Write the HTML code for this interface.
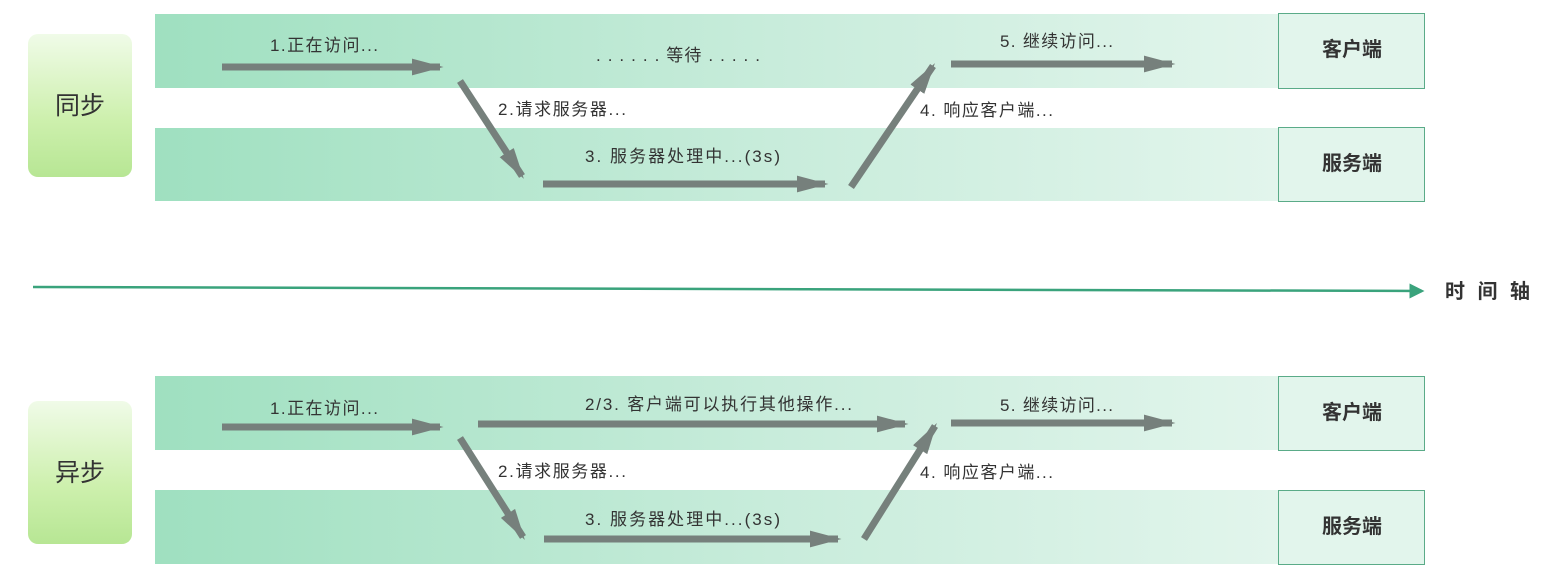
<!DOCTYPE html>
<html><head><meta charset="utf-8"><style>
body{margin:0;background:#fff;}
svg{display:block}
text{font-family:"Liberation Sans","Noto Sans CJK SC",sans-serif;fill:#333;}
</style></head><body>
<svg width="1549" height="573" viewBox="0 0 1549 573" xmlns="http://www.w3.org/2000/svg">
<defs>
<linearGradient id="band" x1="0" x2="1" y1="0" y2="0">
<stop offset="0" stop-color="#9fe0c0"/><stop offset="0.55" stop-color="#c8ecdb"/><stop offset="1" stop-color="#e2f5ec"/>
</linearGradient>
<linearGradient id="lab" x1="0" x2="0" y1="0" y2="1">
<stop offset="0" stop-color="#f0fbe8"/><stop offset="0.6" stop-color="#cdf0ad"/><stop offset="1" stop-color="#b7e694"/>
</linearGradient>
<marker id="ah" markerWidth="4.5" markerHeight="2.4" refX="4" refY="1.2" orient="auto" markerUnits="strokeWidth">
<path d="M0,0 L4.5,1.2 L0,2.4 Z" fill="#76807c"/></marker>
<marker id="ta" markerWidth="6" markerHeight="6" refX="5" refY="3" orient="auto" markerUnits="strokeWidth">
<path d="M0,0 L6,3 L0,6 Z" fill="#3aa37c"/></marker>
</defs>
<!-- sync -->
<rect x="28" y="34" width="104" height="143" rx="10" fill="url(#lab)"/>
<text x="80" y="114" font-size="25" text-anchor="middle">同步</text>
<rect x="155" y="14" width="1123" height="74" fill="url(#band)"/>
<rect x="155" y="128" width="1123" height="73" fill="url(#band)"/>
<rect x="1278.5" y="13.5" width="146" height="75" fill="#e2f5ec" stroke="#5aab88"/>
<rect x="1278.5" y="127.5" width="146" height="74" fill="#e2f5ec" stroke="#5aab88"/>
<text x="1352" y="56" font-size="20" text-anchor="middle" font-weight="bold">客户端</text>
<text x="1352" y="170" font-size="20" text-anchor="middle" font-weight="bold">服务端</text>
<g stroke="#76807c" stroke-width="7" fill="none" marker-end="url(#ah)">
<line x1="222" y1="67" x2="440" y2="67"/>
<line x1="460" y1="81" x2="522" y2="176"/>
<line x1="543" y1="184" x2="825" y2="184"/>
<line x1="851" y1="187" x2="933" y2="66"/>
<line x1="951" y1="64" x2="1172" y2="64"/>
</g>
<g font-size="17">
<text x="270" y="51" textLength="108">1.正在访问...</text>
<text x="596" y="61" textLength="164">. . . . . . 等待 . . . . .</text>
<text x="498" y="115" textLength="128">2.请求服务器...</text>
<text x="585" y="162" textLength="195">3. 服务器处理中...(3s)</text>
<text x="920" y="116" textLength="133">4. 响应客户端...</text>
<text x="1000" y="47" textLength="113">5. 继续访问...</text>
</g>
<!-- axis -->
<line x1="33" y1="287" x2="1422" y2="291" stroke="#3aa37c" stroke-width="2.5" marker-end="url(#ta)"/>
<text x="1445" y="298" font-size="20" font-weight="bold" textLength="85">时间轴</text>
<!-- async -->
<rect x="28" y="401" width="104" height="143" rx="10" fill="url(#lab)"/>
<text x="80" y="481" font-size="25" text-anchor="middle">异步</text>
<rect x="155" y="376" width="1123" height="74" fill="url(#band)"/>
<rect x="155" y="490" width="1123" height="74" fill="url(#band)"/>
<rect x="1278.5" y="376.5" width="146" height="74" fill="#e2f5ec" stroke="#5aab88"/>
<rect x="1278.5" y="490.5" width="146" height="74" fill="#e2f5ec" stroke="#5aab88"/>
<text x="1352" y="419" font-size="20" text-anchor="middle" font-weight="bold">客户端</text>
<text x="1352" y="533" font-size="20" text-anchor="middle" font-weight="bold">服务端</text>
<g stroke="#76807c" stroke-width="7" fill="none" marker-end="url(#ah)">
<line x1="222" y1="427" x2="440" y2="427"/>
<line x1="478" y1="424" x2="905" y2="424"/>
<line x1="460" y1="438" x2="523" y2="537"/>
<line x1="544" y1="539" x2="838" y2="539"/>
<line x1="864" y1="539" x2="935" y2="426"/>
<line x1="951" y1="423" x2="1172" y2="423"/>
</g>
<g font-size="17">
<text x="270" y="414" textLength="108">1.正在访问...</text>
<text x="585" y="410" textLength="267">2/3. 客户端可以执行其他操作...</text>
<text x="498" y="477" textLength="128">2.请求服务器...</text>
<text x="585" y="525" textLength="195">3. 服务器处理中...(3s)</text>
<text x="920" y="478" textLength="133">4. 响应客户端...</text>
<text x="1000" y="411" textLength="113">5. 继续访问...</text>
</g>
</svg>
</body></html>
